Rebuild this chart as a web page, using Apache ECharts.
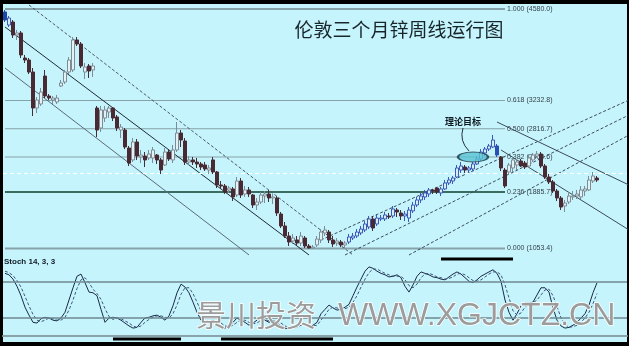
<!DOCTYPE html>
<html><head><meta charset="utf-8">
<script src="https://cdn.jsdelivr.net/npm/echarts/dist/echarts.min.js"></script>
<style>html,body{margin:0;padding:0;background:#000}#c{width:629px;height:346px}</style>
</head><body><div id="c"></div><script>
// Weekly LME 3-month zinc, [open, close, low, high]
const candles = [
[4536,4418,4389,4565],[4344,4447,4315,4477],[4389,4197,4153,4418],[4197,4227,4124,4271],[4227,3903,3858,4256],
[3858,3829,3785,3903],[3829,3652,3623,3858],[3652,3122,3004,3711],[3122,3240,3049,3284],[3181,3358,3152,3417],
[3593,3299,3269,3682],[3299,3269,3240,3328],[3240,3269,3181,3299],[3211,3269,3181,3314],[3446,3490,3431,3535],
[3505,3652,3476,3682],[3652,3829,3623,3873],[3682,4124,3652,4168],[4124,4065,4035,4168],[4065,3741,3711,4094],
[3652,3726,3549,3785],[3741,3667,3564,3770],[3682,3741,3579,3785],[3122,2798,2695,3152],[2828,3093,2769,3152],
[2975,3093,2916,3152],[3063,3122,2975,3152],[3122,2975,2931,3137],[2990,2828,2783,3019],[2798,2842,2680,2887],
[2798,2548,2518,2828],[2533,2312,2268,2563],[2357,2622,2327,2680],[2622,2415,2357,2666],[2401,2430,2312,2504],
[2415,2357,2253,2474],[2386,2445,2357,2504],[2386,2504,2312,2548],[2430,2357,2298,2445],[2357,2209,2150,2386],
[2283,2474,2268,2533],[2474,2371,2342,2504],[2357,2504,2312,2577],[2504,2754,2474,2916],[2754,2651,2548,2798],
[2636,2327,2283,2680],[2327,2357,2283,2415],[2357,2327,2283,2401],[2327,2298,2239,2386],[2298,2253,2209,2327],
[2283,2224,2195,2327],[2209,2239,2150,2283],[2357,2180,2150,2401],[2180,1988,1944,2195],[1988,1974,1930,2047],
[1974,1885,1856,2003],[1915,1944,1871,1974],[1930,1812,1753,1959],[1841,2047,1812,2106],[2047,1841,1797,2091],
[1856,1915,1812,1974],[1915,1856,1812,1959],[1841,1694,1650,1856],[1694,1738,1620,1797],[1738,1841,1709,1885],
[1826,1856,1723,1900],[1856,1797,1738,1915],[1797,1812,1709,1856],[1797,1576,1532,1826],[1561,1385,1355,1591],
[1385,1237,1208,1444],[1237,1149,1090,1296],[1164,1208,1120,1267],[1179,1134,1090,1237],[1134,1237,1090,1296],
[1208,1090,1061,1237],[1090,1061,1053.4,1120],[1061,1075,1061,1105],[1105,1193,1075,1237],[1179,1296,1134,1340],
[1282,1326,1237,1385],[1296,1179,1134,1326],[1179,1120,1075,1237],[1134,1164,1090,1208],[1149,1105,1075,1179],
[1105,1134,1061,1164],[1149,1223,1120,1267],[1208,1237,1179,1282],[1237,1296,1208,1340],[1282,1340,1252,1385],
[1326,1414,1296,1458],[1370,1488,1340,1532],[1488,1355,1311,1532],[1414,1502,1385,1561],[1488,1502,1458,1547],
[1488,1547,1458,1591],[1532,1517,1488,1576],[1532,1635,1502,1679],[1620,1591,1517,1650],[1576,1532,1473,1620],
[1532,1561,1458,1606],[1502,1620,1444,1664],[1606,1694,1576,1738],[1694,1768,1664,1812],[1768,1826,1723,1871],
[1812,1871,1768,1915],[1856,1915,1812,1944],[1915,1900,1856,1930],[1944,1885,1856,1959],[1871,1930,1826,1959],
[1930,2018,1915,2062],[2018,2062,1988,2106],[2047,2091,2003,2121],[2106,2239,2091,2283],[2209,2268,2165,2327],
[2253,2209,2165,2283],[2209,2239,2165,2268],[2224,2298,2195,2327],[2298,2371,2283,2415],[2371,2474,2342,2518],
[2460,2518,2415,2548],[2518,2563,2489,2592],[2548,2651,2533,2725],[2563,2430,2401,2592],[2401,2239,2195,2415],
[2209,1974,1944,2239],[2180,2283,2136,2312],[2239,2357,2180,2401],[2283,2327,2209,2371],[2342,2268,2253,2371],
[2312,2253,2224,2342],[2268,2386,2239,2430],[2357,2430,2327,2460],[2415,2445,2386,2489],[2445,2268,2239,2474],
[2268,2106,2077,2298],[2106,2033,2003,2150],[2033,1900,1871,2062],[1900,1797,1753,1930],[1797,1664,1620,1826],
[1679,1723,1591,1768],[1738,1826,1709,1885],[1812,1826,1768,1900],[1826,1856,1782,1915],[1812,1915,1782,1974],
[1900,1930,1826,1974],[1915,2062,1900,2121],[2047,2121,2018,2180],[2091,2062,2033,2121]
];

// Stochastic 14,3,3
const stochK = [87,85,79,69,56,40,29,19,18,24,26,25,22,21,25,33,50,67,83,86,74,61,60,56,37,19,25,26,25,22,
18,14,11,12,19,25,26,28,29,26,22,28,42,60,72,68,60,47,33,22,17,19,22,18,14,11,14,19,25,22,
19,15,18,22,25,22,19,22,18,14,11,10,12,15,19,15,12,15,19,31,37,43,39,36,37,40,44,56,68,79,
90,96,94,90,87,85,82,83,85,81,69,61,71,83,89,87,85,82,81,79,78,82,86,89,86,81,76,74,78,83,
86,89,92,87,76,50,33,22,31,42,46,46,47,57,67,67,61,39,22,14,11,12,15,19,25,31,43,60,74];
const stochD = [90,88,84,77,68,55,42,30,22,20,22,25,24,22,22,26,36,50,66,78,81,74,65,59,51,38,27,23,25,24,
21,18,14,12,14,19,23,26,28,28,26,25,31,43,58,67,67,59,47,35,25,19,19,20,18,14,13,15,19,22,
22,19,17,18,22,23,21,21,20,18,14,12,11,12,15,16,15,14,15,22,29,37,40,39,37,38,40,47,56,68,
79,88,93,93,90,87,85,83,83,83,78,70,67,72,81,86,87,85,82,81,79,80,82,86,87,85,81,77,76,78,
82,86,89,89,85,71,53,35,29,32,40,45,46,50,57,64,65,56,41,25,16,12,13,15,19,25,33,45,59];
const stochLevels = [75, 25];

// Fibonacci retracement of the 1053.4 low to the 4580.0 high
const fibRatios = ['1.000', '0.618', '0.500', '0.382', '0.236', '0.000'];
const fibPrices = [4580.0, 3232.8, 2816.7, 2400.6, 1885.7, 1053.4];
const fibSpan = [-0.5, 125];

// Trend channel lines, [week index, price] end points
const downA = [[6.25, 4639], [86.75, 958]];
const downB = [[-0.5, 4315], [75.5, 958]];
const downC = [[-0.5, 3711], [61, 958]];
const upA = [[79.25, 1179], [156, 3240]];
const upB = [[85, 958], [156, 3019]];
const upC = [[101.25, 958], [156, 2725]];
const fallA = [[122.5, 2916], [156, 1988]];
const fallB = [[123.75, 2504], [156, 1326]];
const refPrice = 2165;

// Theoretical target marker and highlighted ranges under the oscillator
const target = [116.75, 2401];
const zoneLow1 = [26.5, 43.5];
const zoneLow2 = [54, 81.75];
const zoneHigh = [108.5, 126.75];

const weeks = [];
for (let i = 0; i < 156; i++) weeks.push('W' + (i + 1));

const chart = echarts.init(document.getElementById('c'), null, { renderer: 'canvas' });

const candleData = candles.map((c, i) => {
  const up = c[1] >= c[0];
  const item = { value: c };
  if (i === 0) item.itemStyle = { color0: '#1c4aa8', borderColor0: '#1c4aa8' };
  else if (i === 1 || (i >= 86 && i <= 124 && up)) item.itemStyle = { borderColor: '#3a5cb8', color: '#d8ecf4' };
  else if (i === 123) item.itemStyle = { color0: '#2a50b4', borderColor0: '#2a50b4' };
  return item;
});

function chLine(name, pts, color, type) {
  return {
    name, type: 'line', xAxisIndex: 0, yAxisIndex: 0, data: pts, symbol: 'none', silent: true,
    lineStyle: { color, width: 1, type: type || 'solid' }, z: 3
  };
}

const series = [];
fibPrices.forEach((p, k) => {
  const isThick = k === 0 || k === 5;
  series.push({
    type: 'line', xAxisIndex: 0, yAxisIndex: 0, symbol: 'none', silent: true, z: 2,
    data: [[fibSpan[0], p], [fibSpan[1], p]],
    lineStyle: {
      color: k === 4 ? '#0c3f2e' : '#86a2aa',
      width: k === 4 ? 1.6 : (isThick ? 2 : 1.2)
    },
    endLabel: {
      show: true, formatter: fibRatios[k] + ' (' + p.toFixed(1) + ')',
      color: '#34424a', fontSize: 7, fontFamily: 'Liberation Sans', distance: 2
    }
  });
});

series.push(
  chLine('downA', downA, '#4a5866', [3, 2]),
  chLine('downB', downB, '#1e2a34'),
  chLine('downC', downC, '#5a6a78'),
  chLine('upA', upA, '#3a4c60', [3, 2]),
  chLine('upB', upB, '#3a4c60', [3, 2]),
  chLine('upC', upC, '#3a4c60', [3, 2]),
  chLine('fallA', fallA, '#3a4a58'),
  chLine('fallB', fallB, '#3a4a58')
);

series.push({
  name: 'zinc', type: 'candlestick', xAxisIndex: 0, yAxisIndex: 0, data: candleData, barWidth: 3, z: 5,
  itemStyle: { color: '#e4f2f4', color0: '#4a2a32', borderColor: '#7d8c96', borderColor0: '#4a2a32', borderWidth: 1 },
  markLine: {
    silent: true, symbol: 'none', label: { show: false },
    lineStyle: { color: '#ffffff', type: [4, 3], width: 1 },
    data: [{ yAxis: refPrice }]
  }
});

series.push({
  type: 'scatter', xAxisIndex: 0, yAxisIndex: 0, data: [target], symbol: 'circle', symbolSize: [30, 10], z: 8,
  itemStyle: { color: '#58c2d2', borderColor: '#1c3644', borderWidth: 1.5 }, silent: true
});

series.push({
  name: '%K', type: 'line', xAxisIndex: 1, yAxisIndex: 1, data: stochK, symbol: 'none', smooth: false,
  lineStyle: { color: '#1a2a46', width: 1 }, z: 4,
  markLine: {
    silent: true, symbol: 'none', label: { show: false },
    lineStyle: { color: '#6e8890', width: 1.5, type: 'solid' },
    data: stochLevels.map(v => ({ yAxis: v }))
  }
});
series.push({
  name: '%D', type: 'line', xAxisIndex: 1, yAxisIndex: 1, data: stochD, symbol: 'none',
  lineStyle: { color: '#3c5a7a', width: 1, type: [3, 2] }, z: 4
});
[[zoneLow1, -4.2], [zoneLow2, -4.2], [zoneHigh, 107]].forEach(([r, v]) => {
  series.push({
    type: 'line', xAxisIndex: 1, yAxisIndex: 1, symbol: 'none', silent: true, z: 6,
    data: [[r[0], v], [r[1], v]], lineStyle: { color: '#000000', width: 3 }
  });
});

chart.setOption({
  animation: false,
  backgroundColor: '#000000',
  grid: [
    { left: 3, top: 4, width: 624, height: 252, show: true, backgroundColor: '#c6f4fc', borderWidth: 0 },
    { left: 3, top: 256, width: 624, height: 86, show: true, backgroundColor: '#c6f4fc', borderWidth: 0 }
  ],
  xAxis: [
    { type: 'category', gridIndex: 0, data: weeks, boundaryGap: true, show: false },
    { type: 'category', gridIndex: 1, data: weeks, boundaryGap: true, position: 'top',
      axisLine: { show: true, lineStyle: { color: '#8aa2aa', width: 2 } },
      axisTick: { show: false }, axisLabel: { show: false } }
  ],
  yAxis: [
    { type: 'value', gridIndex: 0, min: 942.9, max: 4653.6, show: false, splitLine: { show: false } },
    { type: 'value', gridIndex: 1, min: -8.3, max: 111.1, show: false, splitLine: { show: false } }
  ],
  series
});

// Annotations anchored to the data
const tp = chart.convertToPixel({ xAxisIndex: 0, yAxisIndex: 0 }, target);
chart.setOption({
  graphic: [
    { type: 'text', x: 399, y: 30, style: { text: '伦敦三个月锌周线运行图', fill: '#18262c',
      font: '19px "Noto Sans CJK SC"', align: 'center', verticalAlign: 'middle' }, z: 20 },
    { type: 'text', x: 4, y: 258, style: { text: 'Stoch 14, 3, 3', fill: '#101c26',
      font: 'bold 8px "Liberation Sans"' }, z: 20 },
    { type: 'text', x: tp[0] - 10, y: tp[1] - 35, style: { text: '理论目标', fill: '#101820',
      font: 'bold 9px "Noto Sans CJK SC"', align: 'center', verticalAlign: 'middle' }, z: 20 },
    { type: 'bezierCurve', shape: { x1: tp[0] - 10, y1: tp[1] - 29, cpx1: tp[0] - 14, cpy1: tp[1] - 16, x2: tp[0] - 4, y2: tp[1] - 6 },
      style: { stroke: '#203040', lineWidth: 1, fill: null }, z: 20 },
    { type: 'text', x: 196, y: 300, style: { text: '景川投资', fill: '#9c9c9c', stroke: '#ffffff', lineWidth: 1.5,
      font: '30px "Noto Sans CJK SC"' }, z: 30 },
    { type: 'text', x: 338, y: 300, style: { text: 'WWW.XGJCTZ.CN', fill: '#9c9c9c', stroke: '#ffffff', lineWidth: 1.5,
      font: '32px "Liberation Sans"' }, z: 30 }
  ]
});
</script></body></html>
